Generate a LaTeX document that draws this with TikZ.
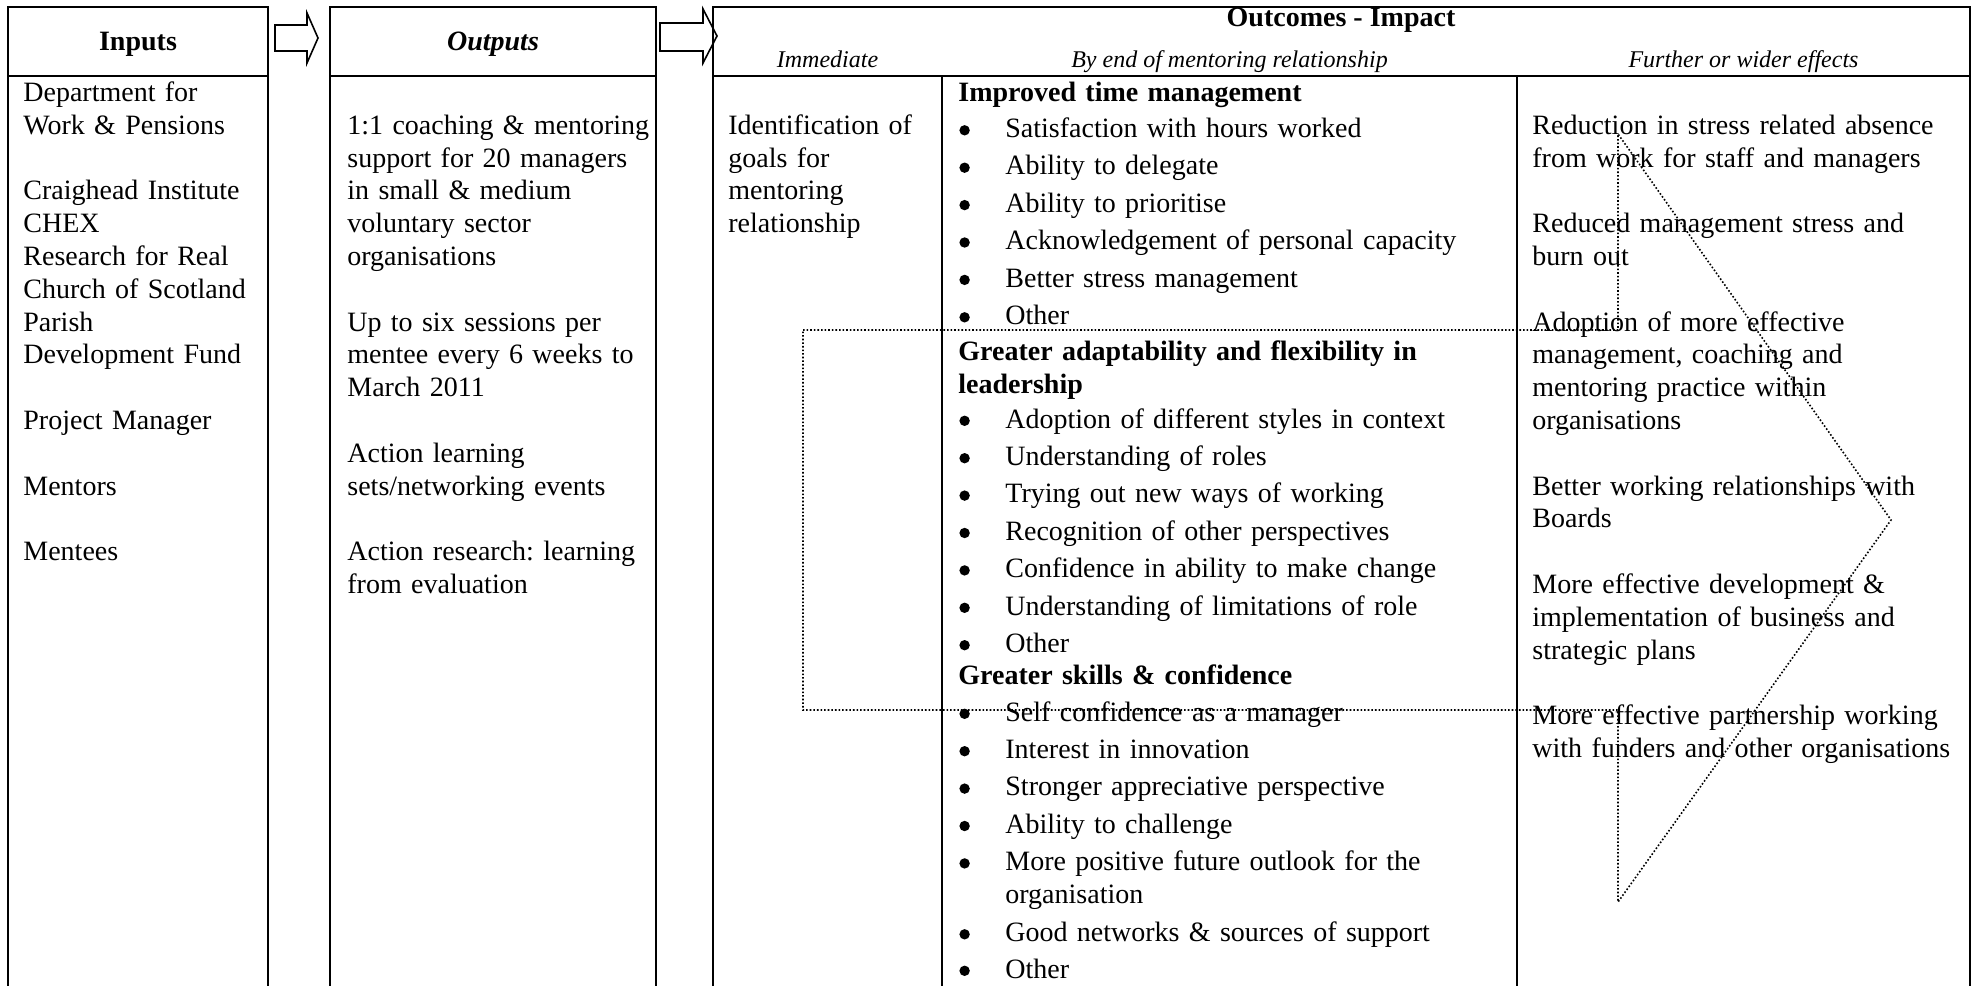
\documentclass[tikz,border=0pt]{standalone}
\usepackage{fontspec}
\setmainfont{Liberation Serif}
\usepackage{xcolor}
\usetikzlibrary{positioning,calc}

\frenchspacing
\newcommand{\bulletmark}{\makebox[23pt][l]{\tikz[baseline=0pt]\fill (2.6pt,3.6pt) circle (2.6pt);}}

\begin{document}
\begin{tikzpicture}[
    x=0.5pt, y=-0.5pt,
    panel/.style={draw, line width=0.8pt},
    blockarrow/.style={draw, line width=0.8pt, line join=miter},
    pathway/.style={densely dotted, line width=0.8pt},
    headtxt/.style={anchor=base, inner sep=0pt, font=\fontsize{14}{16.4}\selectfont\bfseries},
    subhead/.style={anchor=base, inner sep=0pt, font=\fontsize{12}{14}\selectfont\itshape},
    bodytxt/.style={anchor=base west, inner sep=0pt, text width=#1, align=left, font=\fontsize{14}{16.4}\selectfont},
    bodytxt/.default=216pt,
    itemtxt/.style={bodytxt=272pt},
    groupname/.style={bodytxt=272pt, font=\fontsize{14}{16.4}\selectfont\bfseries}
]
\useasboundingbox (0,0) rectangle (1975,985);
\clip (0,0) rectangle (1975,985);

% the three panels
\draw[panel] (8,7) rectangle (268,1000);
\draw[panel] (8,76) -- (268,76);
\draw[panel] (330,7) rectangle (656,1000);
\draw[panel] (330,76) -- (656,76);
\draw[panel] (713,7) rectangle (1970,1000);
\draw[panel] (713,76) -- (1970,76);
\draw[panel] (942,76) -- (942,1000);
\draw[panel] (1517,76) -- (1517,1000);

% block arrows between panels
\draw[blockarrow] (275,25) -- (307,25) -- (307,13) -- (318,38) -- (307,63) -- (307,51) -- (275,51) -- cycle;
\draw[blockarrow] (660,23) -- (703,23) -- (703,9) -- (717,36) -- (703,63) -- (703,51) -- (660,51) -- cycle;

% headings
\node[headtxt] (inputs) at (138,50) {Inputs};
\node[headtxt] (outputs) at (493,50) {\itshape Outputs};
\node[headtxt] (outcomes) at (1341,26) {Outcomes - Impact};
\node[subhead] (immediate) at (827.5,67) {Immediate};
\node[subhead] (byend) at (1229.5,67) {By end of mentoring relationship};
\node[subhead] (further) at (1743.5,67) {Further or wider effects};

% inputs
\node[bodytxt=120pt] (dwp) at (23,101.5) {Department for\\Work \& Pensions};
\node[bodytxt=120pt] (funders) at (23,199.9) {Craighead Institute\\CHEX\\Research for Real\\Church of Scotland\\Parish\\Development Fund};
\node[bodytxt=120pt] (pm) at (23,429.5) {Project Manager};
\node[bodytxt=120pt] (mentors) at (23,495.1) {Mentors};
\node[bodytxt=120pt] (mentees) at (23,560.7) {Mentees};

% outputs
\node[bodytxt=154pt] (coaching) at (347,134.3) {1:1 coaching \& mentoring\\support for 20 managers\\in small \& medium\\voluntary sector\\organisations};
\node[bodytxt=154pt] (sessions) at (347,331.1) {Up to six sessions per\\mentee every 6 weeks to\\March 2011};
\node[bodytxt=154pt] (sets) at (347,462.3) {Action learning\\sets/networking events};
\node[bodytxt=154pt] (research) at (347,560.7) {Action research: learning\\from evaluation};

% immediate
\node[bodytxt=104pt] (goals) at (728,134.3) {Identification of\\goals for\\mentoring\\relationship};

% by end of mentoring relationship
\node[groupname] (timemgmt) at (958,101.5) {Improved time management};
\node[itemtxt] (t1) at (959,137.5) {\bulletmark Satisfaction with hours worked};
\node[itemtxt] (t2) at (959,174.9) {\bulletmark Ability to delegate};
\node[itemtxt] (t3) at (959,212.3) {\bulletmark Ability to prioritise};
\node[itemtxt] (t4) at (959,249.7) {\bulletmark Acknowledgement of personal capacity};
\node[itemtxt] (t5) at (959,287.1) {\bulletmark Better stress management};
\node[itemtxt] (t6) at (959,324.5) {\bulletmark Other};

\node[groupname] (adapt) at (958,360.5) {Greater adaptability and flexibility in\\leadership};
\node[itemtxt] (a1) at (959,428) {\bulletmark Adoption of different styles in context};
\node[itemtxt] (a2) at (959,465.4) {\bulletmark Understanding of roles};
\node[itemtxt] (a3) at (959,502.8) {\bulletmark Trying out new ways of working};
\node[itemtxt] (a4) at (959,540.2) {\bulletmark Recognition of other perspectives};
\node[itemtxt] (a5) at (959,577.6) {\bulletmark Confidence in ability to make change};
\node[itemtxt] (a6) at (959,615) {\bulletmark Understanding of limitations of role};
\node[itemtxt] (a7) at (959,652.4) {\bulletmark Other};

\node[groupname] (skills) at (958,684) {Greater skills \& confidence};
\node[itemtxt] (s1) at (959,721) {\bulletmark Self confidence as a manager};
\node[itemtxt] (s2) at (959,758.4) {\bulletmark Interest in innovation};
\node[itemtxt] (s3) at (959,795.8) {\bulletmark Stronger appreciative perspective};
\node[itemtxt] (s4) at (959,833.2) {\bulletmark Ability to challenge};
\node[itemtxt] (s5) at (959,870.6) {\bulletmark More positive future outlook for the\\\hspace*{23pt}organisation};
\node[itemtxt] (s6) at (959,941.5) {\bulletmark Good networks \& sources of support};
\node[itemtxt] (s7) at (959,978) {\bulletmark Other};

% further or wider effects
\node[bodytxt] (absence) at (1532,134.3) {Reduction in stress related absence\\from work for staff and managers};
\node[bodytxt] (burnout) at (1532,232.7) {Reduced management stress and\\burn out};
\node[bodytxt] (practice) at (1532,331.1) {Adoption of more effective\\management, coaching and\\mentoring practice within\\organisations};
\node[bodytxt] (boards) at (1532,495.1) {Better working relationships with\\Boards};
\node[bodytxt] (plans) at (1532,593.5) {More effective development \&\\implementation of business and\\strategic plans};
\node[bodytxt] (partners) at (1532,724.7) {More effective partnership working\\with funders and other organisations};

% dotted pathway arrow
\draw[pathway] (803,330) -- (1618,330) -- (1618,134) -- (1891,520) -- (1618,902) -- (1618,710) -- (803,710) -- cycle;

\end{tikzpicture}
\end{document}
